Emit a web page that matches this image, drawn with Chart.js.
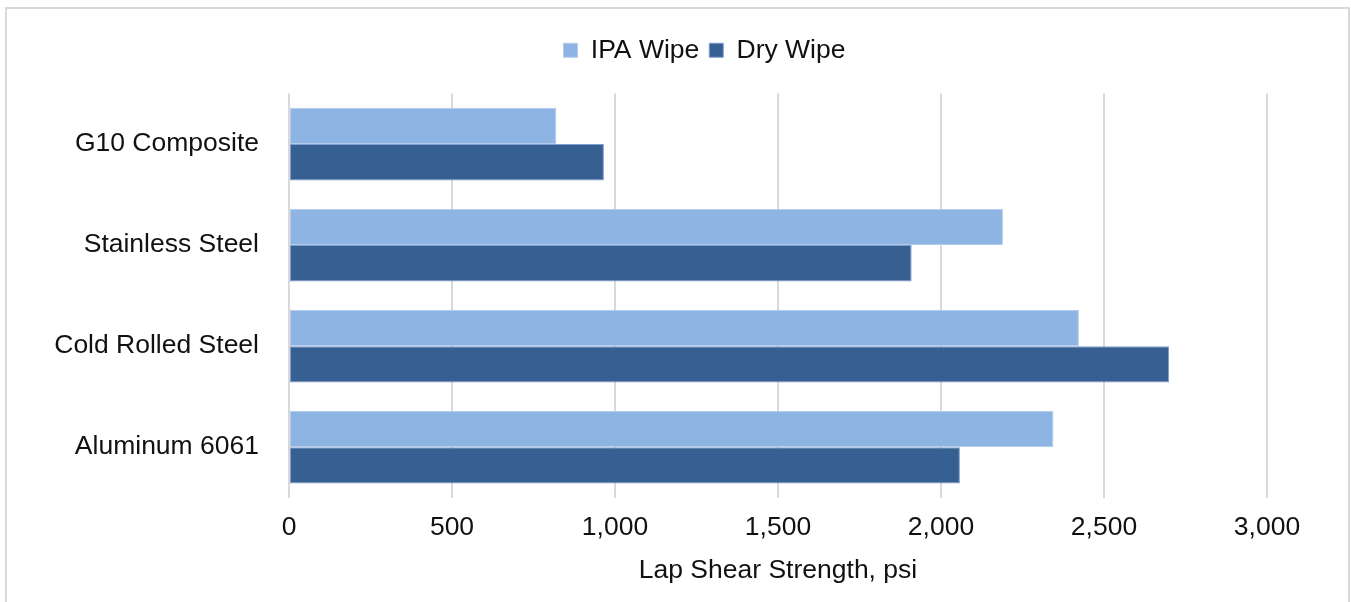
<!DOCTYPE html>
<html>
<head>
<meta charset="utf-8">
<script src="https://cdn.jsdelivr.net/npm/chart.js@4"></script>
<style>
  html, body { margin: 0; padding: 0; background: #ffffff; }
  #wrap { position: relative; width: 1351px; height: 602px; }
</style>
</head>
<body>
<div id="wrap"><canvas id="c" width="1351" height="602"></canvas></div>
<script>
const categories = ["G10 Composite", "Stainless Steel", "Cold Rolled Steel", "Aluminum 6061"];
const ipaWipe = [820, 2190, 2423, 2345];
const dryWipe = [966, 1910, 2700, 2058];
const seriesNames = ["IPA Wipe", "Dry Wipe"];
const xTicks = [0, 500, 1000, 1500, 2000, 2500, 3000];
const axisTitle = "Lap Shear Strength, psi";

const FONT = "'Liberation Sans', Arial, sans-serif";
const FS = 26.5;

const framePlugin = {
  id: 'frame',
  afterInit(chart) {
    const lg = chart.legend;
    if (lg) {
      const orig = lg.fit;
      lg.fit = function () { orig.call(this); this.height += 20; };
    }
  },
  afterLayout(chart) {
    const lg = chart.legend;
    if (lg) { lg.left += 71; lg.right += 71; }
  },
  beforeDraw(chart) {
    const ctx = chart.ctx;
    ctx.save();
    ctx.fillStyle = '#ffffff';
    ctx.fillRect(0, 0, chart.width, chart.height);
    ctx.strokeStyle = '#d9d9d9';
    ctx.lineWidth = 2;
    ctx.strokeRect(6, 8, 1343, 700);
    ctx.restore();
  }
};

new Chart(document.getElementById('c'), {
  type: 'bar',
  data: {
    labels: categories,
    datasets: [
      { label: seriesNames[0], data: ipaWipe, backgroundColor: '#8eb4e3', borderColor: '#b3cbec', borderWidth: 1, borderSkipped: false },
      { label: seriesNames[1], data: dryWipe, backgroundColor: '#376092', borderColor: '#7f9ccb', borderWidth: 1, borderSkipped: false }
    ]
  },
  options: {
    indexAxis: 'y',
    responsive: false,
    animation: false,
    devicePixelRatio: 1,
    datasets: { bar: { categoryPercentage: 0.72, barPercentage: 1.0 } },
    layout: { padding: { left: 0, right: 84, top: 27, bottom: 18 } },
    plugins: {
      legend: {
        position: 'top',
        labels: {
          font: { family: FONT, size: FS },
          color: '#111111',
          boxWidth: 14,
          boxHeight: 14,
          padding: 10
        }
      },
      title: { display: false },
      tooltip: { enabled: false }
    },
    scales: {
      x: {
        min: 0,
        max: 3000,
        afterBuildTicks(scale) { scale.ticks = xTicks.map(v => ({ value: v })); },
        ticks: {
          font: { family: FONT, size: FS },
          color: '#111111',
          padding: 14,
          maxRotation: 0,
          callback: (v) => Number(v).toLocaleString('en-US')
        },
        grid: { color: '#d9d9d9', lineWidth: 2, drawTicks: false },
        border: { display: false },
        title: {
          display: true,
          text: axisTitle,
          font: { family: FONT, size: FS, lineHeight: 1.0 },
          color: '#111111',
          padding: { top: 0, bottom: 0 }
        }
      },
      y: {
        afterFit(scale) { scale.width = 289; },
        ticks: {
          font: { family: FONT, size: FS },
          color: '#111111',
          padding: 30
        },
        grid: { display: false, drawTicks: false },
        border: { display: false }
      }
    }
  },
  plugins: [framePlugin]
});
</script>
</body>
</html>
